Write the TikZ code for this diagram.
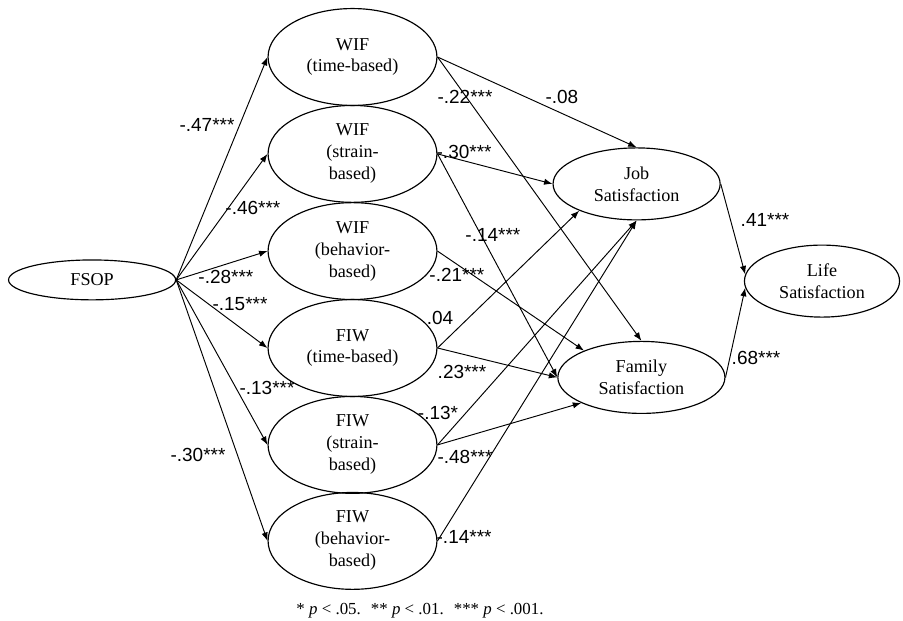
\documentclass[tikz,border=0pt]{standalone}
\usepackage{fontspec}
\setmainfont{Liberation Serif}
\newfontfamily\coeffont{Liberation Sans}
\usetikzlibrary{positioning, arrows.meta, shapes.geometric}

\begin{document}
\begin{tikzpicture}[
      every node/.style={font=\fontsize{17.2}{20.8}\selectfont},
      latent/.style={draw, ellipse, line width=1.1pt, inner sep=0pt, align=center},
      conflict/.style={latent, minimum width=5.63cm, minimum height=3.23cm},
      outcome/.style={latent, minimum width=5.57cm, minimum height=2.4cm},
      coef/.style={font=\coeffont\fontsize{18}{20}\selectfont, inner sep=0pt},
      effect/.style={-{Latex[length=8pt,width=6pt]}, line width=0.9pt},
    ]
    \useasboundingbox (0,0) rectangle (30.1,-20.67);

    % predictor
    \node[latent, minimum width=5.57cm, minimum height=1.33cm] (fsop) at (3.07,-9.33) {FSOP};

    % work-family conflict
    \node[conflict] (wift) at (11.75,-1.9)   {WIF\\(time-based)};
    \node[conflict] (wifs) at (11.75,-5.13)  {WIF\\(strain-\\based)};
    \node[conflict] (wifb) at (11.75,-8.37)  {WIF\\(behavior-\\based)};
    \node[conflict] (fiwt) at (11.75,-11.6)  {FIW\\(time-based)};
    \node[conflict] (fiws) at (11.75,-14.83) {FIW\\(strain-\\based)};
    \node[conflict] (fiwb) at (11.75,-18.03) {FIW\\(behavior-\\based)};

    % satisfaction
    \node[outcome] (job) at (21.22,-6.13)  {Job\\Satisfaction};
    \node[outcome] (fam) at (21.38,-12.58) {Family\\Satisfaction};
    \node[latent, minimum width=5.17cm, minimum height=2.4cm] (life) at (27.4,-9.37) {Life\\Satisfaction};

    \foreach \n in {wift, wifs, wifb, fiwt, fiws, fiwb}
      \draw[effect] (fsop.east) -- (\n.west);

    \draw[effect] (wift.east) -- (job.north);
    \draw[effect] (wift.east) -- (fam.north);
    \draw[effect] (wifs.east) -- (job.west);
    \draw[effect] (wifs.east) -- (fam.west);
    \draw[effect] (wifb.east) -- (fam.155);
    \draw[effect] (fiwt.east) -- (job.205);
    \draw[effect] (fiwt.east) -- (fam.west);
    \draw[effect] (fiws.east) -- (job.south);
    \draw[effect] (fiws.east) -- (fam.203);
    \draw[effect] (fiwb.east) -- (job.south);
    \draw[effect] (job.east) -- (life.175);
    \draw[effect] (fam.east) -- (life.185);

    % path coefficients
    \node[coef] (c1) at (6.9,-4.17)   {-.47***};
    \node[coef] (c2) at (8.43,-6.93)  {-.46***};
    \node[coef] (c3) at (7.53,-9.23)  {-.28***};
    \node[coef] (c4) at (8.0,-10.13)  {-.15***};
    \node[coef] (c5) at (8.9,-12.93)  {-.13***};
    \node[coef] (c6) at (6.6,-15.17)  {-.30***};
    \node[coef] (c7) at (15.5,-3.23)  {-.22***};
    \node[coef] (c8) at (18.73,-3.23) {-.08};
    \node[coef] (c9) at (15.47,-5.07) {-.30***};
    \node[coef] (c10) at (16.43,-7.83) {-.14***};
    \node[coef] (c11) at (15.23,-9.17) {-.21***};
    \node[coef] (c12) at (14.67,-10.6) {.04};
    \node[coef] (c13) at (15.4,-12.4)  {.23***};
    \node[coef] (c14) at (14.6,-13.77) {-.13*};
    \node[coef] (c15) at (15.5,-15.23) {-.48***};
    \node[coef] (c16) at (15.47,-17.9) {-.14***};
    \node[coef] (c17) at (25.5,-7.33)  {.41***};
    \node[coef] (c18) at (25.2,-11.93) {.68***};

    \node[font=\fontsize{16}{18}\selectfont] (note) at (14.0,-20.37)
      {* \textit{p} < .05.\hspace{0.6em}** \textit{p} < .01.\hspace{0.6em}*** \textit{p} < .001.};
  \end{tikzpicture}
\end{document}
